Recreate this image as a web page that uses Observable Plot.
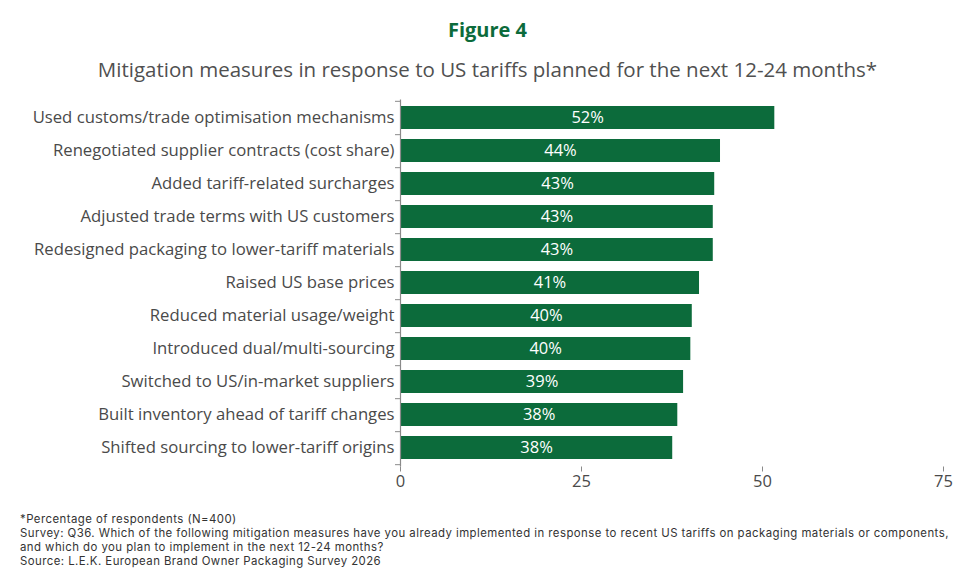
<!DOCTYPE html>
<html>
<head>
<meta charset="utf-8">
<script src="https://cdn.jsdelivr.net/npm/d3@7"></script>
<script src="https://cdn.jsdelivr.net/npm/@observablehq/plot@0.6"></script>
<style>
  html, body { margin: 0; padding: 0; background: #fff; }
  body { width: 975px; height: 587px; font-family: "Open Sans", sans-serif; position: relative; overflow: hidden; }
  #head { position: relative; height: 90px; }
  #title { position: absolute; top: 16px; left: 0; width: 975px; text-align: center; font-size: 20px; font-weight: 700; color: #0c6b3b; }
  #subtitle { position: absolute; top: 55px; left: 0; width: 975px; text-align: center; font-size: 20.5px; color: #505050; }
  #chart svg { display: block; }
  #notes { position: absolute; left: 20px; top: 512px; font-family: Inter, sans-serif; font-size: 11.4px; line-height: 14px; letter-spacing: 0.45px; color: #333; white-space: nowrap; }
</style>
</head>
<body>
<div id="head">
  <div id="title">Figure 4</div>
  <div id="subtitle">Mitigation measures in response to US tariffs planned for the next 12-24 months*</div>
</div>
<div id="chart"></div>
<div id="notes">
  <div>*Percentage of respondents (N=400)</div>
  <div>Survey: Q36. Which of the following mitigation measures have you already implemented in response to recent US tariffs on packaging materials or components,</div>
  <div>and which do you plan to implement in the next 12-24 months?</div>
  <div>Source: L.E.K. European Brand Owner Packaging Survey 2026</div>
</div>
<script>
// Mitigation measures, top to bottom
const measures = [
  "Used customs/trade optimisation mechanisms",
  "Renegotiated supplier contracts (cost share)",
  "Added tariff-related surcharges",
  "Adjusted trade terms with US customers",
  "Redesigned packaging to lower-tariff materials",
  "Raised US base prices",
  "Reduced material usage/weight",
  "Introduced dual/multi-sourcing",
  "Switched to US/in-market suppliers",
  "Built inventory ahead of tariff changes",
  "Shifted sourcing to lower-tariff origins"
];
// Share of respondents (%)
const shares = [51.7, 44.2, 43.4, 43.2, 43.2, 41.3, 40.3, 40.1, 39.1, 38.3, 37.6];
// Value axis ticks
const xTicks = [0, 25, 50, 75];

const data = measures.map((m, i) => ({measure: m, share: shares[i]}));

const green = "#0c6b3b";
const axisGrey = "#8a8a8a";
const width = 975, height = 410;
const marginTop = 9.5, marginBottom = 33.5, marginLeft = 400, marginRight = 32;
const step = (height - marginTop - marginBottom) / measures.length;

const chart = Plot.plot({
  width, height, marginTop, marginBottom, marginLeft, marginRight,
  style: {fontFamily: "'Open Sans', sans-serif", fontSize: "16px", color: "#4a4a4a", background: "#fff"},
  x: {domain: [0, 75], ticks: xTicks},
  y: {domain: measures, paddingInner: 0.3, paddingOuter: 0.15, label: null},
  marks: [
    Plot.barX(data, {y: "measure", x: "share", fill: green}),
    Plot.text(data, {y: "measure", x: d => d.share / 2, text: d => `${Math.round(d.share)}%`, fill: "white", fontSize: 16.5}),
    // vertical axis line with ticks between categories
    Plot.ruleX([0], {stroke: axisGrey, strokeWidth: 1.2}),
    Plot.axisY({text: null, tickSize: 5, dy: step / 2, stroke: axisGrey}),
    Plot.axisY([measures[0]], {text: null, tickSize: 5, dy: -step / 2, stroke: axisGrey}),
    Plot.axisY({tickSize: 0, tickPadding: 6, label: null, fill: "#4a4a4a", fontSize: 16.7}),
    // horizontal axis
    Plot.ruleY([0], {frameAnchor: "bottom", stroke: axisGrey, strokeWidth: 1.2}),
    Plot.axisX({ticks: xTicks, tickSize: 5, tickPadding: 3, label: null, stroke: axisGrey, fill: "#4a4a4a", fontSize: 16.5})
  ]
});
document.getElementById("chart").append(chart);
</script>
</body>
</html>
